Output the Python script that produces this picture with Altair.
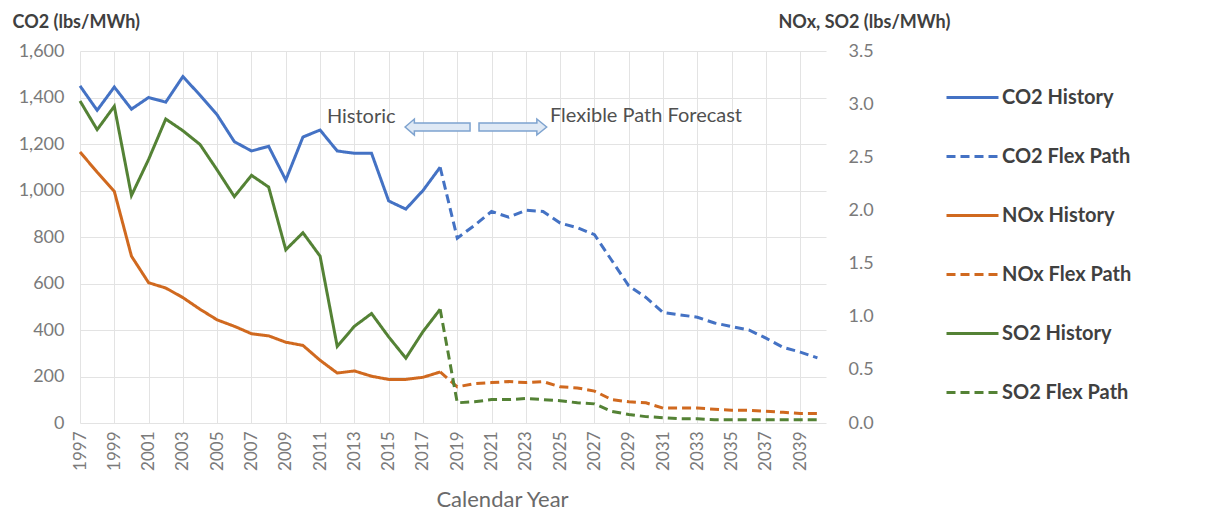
import altair as alt
import pandas as pd

# ---------------- data ----------------
HIST_YEARS = list(range(1997, 2019))
FLEX_YEARS = list(range(2018, 2041))

CO2_HIST = [1450, 1345, 1445, 1350, 1400, 1380, 1490, 1410, 1325, 1210, 1170,
            1190, 1045, 1230, 1260, 1170, 1160, 1160, 955, 920, 1000, 1100]
CO2_FLEX = [1100, 795, 850, 910, 885, 915, 910, 860, 840, 810, 700, 590, 540,
            475, 465, 455, 430, 415, 400, 365, 325, 305, 280]
NOX_HIST = [2.55, 2.36, 2.18, 1.57, 1.32, 1.27, 1.18, 1.07, 0.97, 0.91, 0.84,
            0.82, 0.76, 0.73, 0.59, 0.47, 0.49, 0.44, 0.41, 0.41, 0.43, 0.48]
NOX_FLEX = [0.48, 0.34, 0.37, 0.38, 0.39, 0.38, 0.39, 0.34, 0.33, 0.30, 0.22,
            0.20, 0.19, 0.14, 0.14, 0.14, 0.13, 0.12, 0.12, 0.11, 0.10, 0.09, 0.09]
SO2_HIST = [3.03, 2.76, 2.98, 2.14, 2.48, 2.86, 2.75, 2.62, 2.38, 2.13, 2.33,
            2.22, 1.63, 1.79, 1.57, 0.72, 0.91, 1.03, 0.81, 0.61, 0.86, 1.07]
SO2_FLEX = [1.07, 0.19, 0.20, 0.22, 0.22, 0.23, 0.22, 0.21, 0.19, 0.18, 0.11,
            0.08, 0.06, 0.05, 0.04, 0.04, 0.03, 0.03, 0.03, 0.03, 0.03, 0.03, 0.03]

SERIES = ["CO2 History", "CO2 Flex Path", "NOx History", "NOx Flex Path",
          "SO2 History", "SO2 Flex Path"]
COLORS = ["#4472C4", "#4472C4", "#D0691F", "#D0691F", "#548235", "#548235"]
DASHES = [[1, 0], [9, 5], [1, 0], [9, 5], [1, 0], [9, 5]]

X_TICKS = list(range(1997, 2040, 2))
Y_LEFT_TICKS = [0, 200, 400, 600, 800, 1000, 1200, 1400, 1600]
Y_RIGHT_TICKS = [0, 0.5, 1.0, 1.5, 2.0, 2.5, 3.0, 3.5]

ANNOT_TEXT = ["Historic", "Flexible Path Forecast"]
ANNOT_YEAR = [2015.4, 2024.4]
ANNOT_VAL = [1318, 1322]
ARROW_YEAR = [2017.85, 2022.24]
ARROW_VAL = [1273, 1273]

# ---------------- frames ----------------
def frame(years, vals, name):
    return pd.DataFrame({"year": years, "value": vals, "series": name})

co2 = pd.concat([frame(HIST_YEARS, CO2_HIST, "CO2 History"),
                 frame(FLEX_YEARS, CO2_FLEX, "CO2 Flex Path")])
right = pd.concat([frame(HIST_YEARS, NOX_HIST, "NOx History"),
                   frame(FLEX_YEARS, NOX_FLEX, "NOx Flex Path"),
                   frame(HIST_YEARS, SO2_HIST, "SO2 History"),
                   frame(FLEX_YEARS, SO2_FLEX, "SO2 Flex Path")])
annot = pd.DataFrame({"year": ANNOT_YEAR, "value": ANNOT_VAL, "text": ANNOT_TEXT})
arrows = pd.DataFrame({"year": ARROW_YEAR, "value": ARROW_VAL})

FONT = "Lato"
LABEL_C = "#7a7a7a"
TITLE_C = "#404040"

x_axis = alt.Axis(values=X_TICKS, format="d", labelAngle=-90,
                  labelOverlap=False, labelFontSize=17,
                  labelColor=LABEL_C, labelFont=FONT,
                  labelPadding=8, ticks=False, domain=False,
                  grid=True, gridColor="#e3e3e3",
                  title="Calendar Year", titleFont=FONT,
                  titleFontSize=22, titleFontWeight="normal",
                  titleColor="#6a6a6a", titleX=422, titleY=76,
                  titleAlign="center", titleBaseline="middle")
x_scale = alt.Scale(domain=[1997, 2040.5], nice=False, zero=False)
x_enc = alt.X("year:Q", scale=x_scale, axis=x_axis)

legend = alt.Legend(orient="none", legendX=865, legendY=19,
                    title=None, symbolType="stroke",
                    symbolSize=2704, symbolStrokeWidth=3,
                    labelFontSize=20, labelFont=FONT, labelFontWeight="bold",
                    labelColor=TITLE_C, rowPadding=21,
                    labelOffset=2, padding=0, labelLimit=300)
color_enc = alt.Color("series:N", scale=alt.Scale(domain=SERIES, range=COLORS),
                      legend=legend)
dash_enc = alt.StrokeDash("series:N", scale=alt.Scale(domain=SERIES, range=DASHES),
                          legend=legend)

left_scale = alt.Scale(domain=[0, 1600], nice=False)
right_scale = alt.Scale(domain=[0, 3.5], nice=False)

co2_lines = alt.Chart(co2).mark_line(strokeWidth=3).encode(
    x=x_enc,
    y=alt.Y("value:Q", scale=left_scale,
            axis=alt.Axis(values=Y_LEFT_TICKS, format=",.0f", labelFontSize=18,
                          labelColor=LABEL_C, labelFont=FONT, labelPadding=16,
                          ticks=False, domain=False, grid=True,
                          gridColor="#e3e3e3",
                          title="CO2 (lbs/MWh)", titleAngle=0, titleFont=FONT,
                          titleFontSize=18, titleFontWeight="bold",
                          titleColor=TITLE_C, titleAlign="left",
                          titleBaseline="middle", titleX=-68, titleY=-29)),
    color=color_enc,
    strokeDash=dash_enc,
    detail="series:N",
)

texts_left = alt.Chart(annot.iloc[[0]]).mark_text(
    align="right", baseline="middle", font=FONT, fontSize=20, color="#505050"
).encode(x=x_enc, y=alt.Y("value:Q", scale=left_scale), text="text:N")
texts_right = alt.Chart(annot.iloc[[1]]).mark_text(
    align="left", baseline="middle", font=FONT, fontSize=20, color="#505050"
).encode(x=x_enc, y=alt.Y("value:Q", scale=left_scale), text="text:N")

LEFT_ARROW = "M-4.06,0L-2.9,-1L-2.9,-0.5L4.06,-0.5L4.06,0.5L-2.9,0.5L-2.9,1Z"
RIGHT_ARROW = "M4.23,0L3.0,-1L3.0,-0.5L-4.23,-0.5L-4.23,0.5L3.0,0.5L3.0,1Z"
arrow_l = alt.Chart(arrows.iloc[[0]]).mark_point(
    shape=LEFT_ARROW, size=256, filled=True, fill="#dfe9f5", stroke="#7ea3cf",
    strokeWidth=1.5, opacity=1
).encode(x=x_enc, y=alt.Y("value:Q", scale=left_scale))
arrow_r = alt.Chart(arrows.iloc[[1]]).mark_point(
    shape=RIGHT_ARROW, size=256, filled=True, fill="#dfe9f5", stroke="#7ea3cf",
    strokeWidth=1.5, opacity=1
).encode(x=x_enc, y=alt.Y("value:Q", scale=left_scale))

left_layer = alt.layer(co2_lines, arrow_l, arrow_r, texts_left, texts_right)

right_lines = alt.Chart(right).mark_line(strokeWidth=3).encode(
    x=x_enc,
    y=alt.Y("value:Q", scale=right_scale,
            axis=alt.Axis(orient="right", values=Y_RIGHT_TICKS, format=".1f",
                          labelFontSize=18, labelColor=LABEL_C, labelFont=FONT,
                          labelPadding=22, ticks=False, domain=False, grid=False,
                          title="NOx, SO2 (lbs/MWh)", titleAngle=0,
                          titleFont=FONT, titleFontSize=18,
                          titleFontWeight="bold", titleColor=TITLE_C,
                          titleAlign="left", titleBaseline="middle",
                          titleX=-48, titleY=-29)),
    color=color_enc,
    strokeDash=dash_enc,
    detail="series:N",
)

chart = alt.layer(left_layer, right_lines).resolve_scale(
    y="independent"
).properties(
    width=746, height=372,
    autosize=alt.AutoSizeParams(type="none"),
    padding={"left": 72, "top": 43, "right": 398, "bottom": 92},
    background="white",
).configure_view(stroke=None).configure_axisX(labelOverlap=False)

chart.save("out.html", embed_options={"renderer": "svg", "actions": False})
